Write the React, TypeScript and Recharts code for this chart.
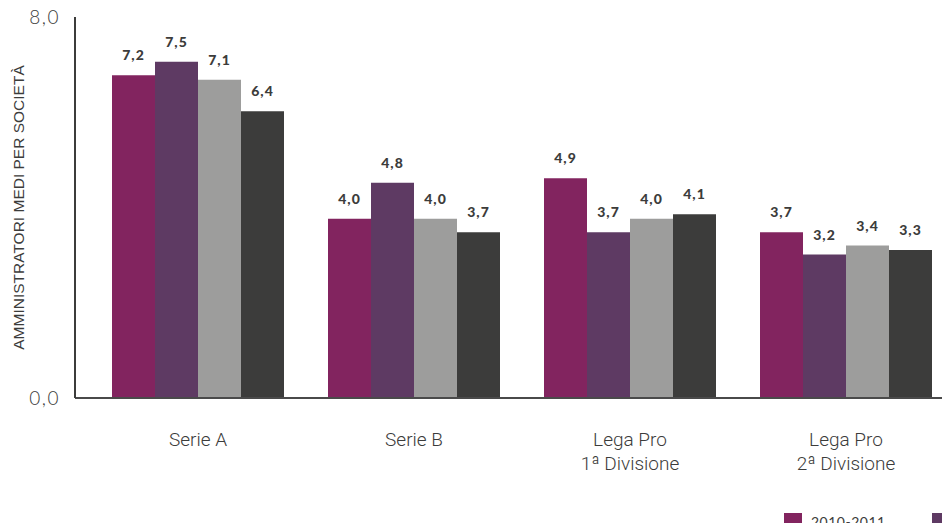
import React from 'react';
import { BarChart, Bar, XAxis, YAxis, Legend, LabelList } from 'recharts';

const categories = ['Serie A', 'Serie B', 'Lega Pro\n1ª Divisione', 'Lega Pro\n2ª Divisione'];
const seasons = ['2010-2011', '2011-2012', '2012-2013', '2013-2014'];
const season1 = [7.2, 4.0, 4.9, 3.7];
const season2 = [7.5, 4.8, 3.7, 3.2];
const season3 = [7.1, 4.0, 4.0, 3.4];
const season4 = [6.4, 3.7, 4.1, 3.3];
const yTicks = [0, 8.5];
const yTickLabels = ['0,0', '8,0'];

const colors = ['#82245f', '#5e3a63', '#9d9d9c', '#3c3c3b'];
const seriesValues = [season1, season2, season3, season4];

const data = categories.map((name, i) => ({
  name,
  s0: season1[i],
  s1: season2[i],
  s2: season3[i],
  s3: season4[i],
}));

const fmt = (v: any) => Number(v).toFixed(1).replace('.', ',');

const CategoryTick = (props: any) => {
  const { x, y, payload } = props;
  const lines = String(payload.value).split('\n');
  return (
    <text x={x} y={y} textAnchor="middle" fill="#3c3c3b" fontFamily="Roboto" fontWeight={300} fontSize={19}>
      {lines.map((l, i) => (
        <tspan key={i} x={x} dy={i === 0 ? 40 : 24}>
          {l}
        </tspan>
      ))}
    </text>
  );
};

const LegendContent = () => (
  <div style={{ display: 'flex', whiteSpace: 'nowrap' }}>
    {seasons.map((s, i) => (
      <div key={s} style={{ display: 'flex', alignItems: 'center', width: 148, flex: 'none', height: 18 }}>
        <div style={{ width: 18, height: 18, background: colors[i], marginRight: 9 }} />
        <span style={{ fontFamily: 'Lato', fontSize: 14, lineHeight: '18px', color: '#3c3c3b', letterSpacing: 0.5 }}>{s}</span>
      </div>
    ))}
  </div>
);

const App = () => {
  return (
    <div style={{ margin: -8, width: 950, height: 531, overflow: 'hidden', position: 'relative', background: '#fff' }}>
      <BarChart
        width={960}
        height={531}
        data={data}
        margin={{ top: 17, right: 6, left: 0, bottom: 73 }}
        barGap={0}
        barCategoryGap={22}
      >
        <XAxis
          dataKey="name"
          height={60}
          padding={{ left: 15, right: 0 }}
          axisLine={{ stroke: '#4a4a4a', strokeWidth: 2 }}
          tickLine={false}
          interval={0}
          tick={<CategoryTick />}
        />
        <YAxis
          width={75}
          domain={[0, 8.5]}
          ticks={yTicks}
          tickFormatter={(v: number) => yTickLabels[yTicks.indexOf(v)]}
          axisLine={{ stroke: '#3c3c3b', strokeWidth: 2 }}
          tickLine={false}
          tickMargin={9}
          tick={{ fill: '#3c3c3b', fontSize: 19, fontFamily: 'Lato', fontWeight: 300, letterSpacing: 1.5 }}
          label={{
            value: 'AMMINISTRATORI MEDI PER SOCIETÀ',
            angle: -90,
            position: 'center',
            dx: -19,
            style: { fill: '#3c3c3b', fontSize: 15.5, fontFamily: 'Liberation Sans', textAnchor: 'middle' },
          }}
        />
        <Legend
          verticalAlign="middle"
          align="center"
          layout="horizontal"
          content={<LegendContent />}
          wrapperStyle={{ top: 513, left: 784, width: 800 }}
        />
        {seriesValues.map((_, i) => (
          <Bar key={i} dataKey={`s${i}`} name={seasons[i]} fill={colors[i]} isAnimationActive={false}>
            <LabelList
              dataKey={`s${i}`}
              position="top"
              offset={15}
              formatter={fmt}
              style={{ fill: '#3c3c3b', fontSize: 14, fontFamily: 'Lato', fontWeight: 900, letterSpacing: 1 }}
            />
          </Bar>
        ))}
      </BarChart>
    </div>
  );
};

export default App;
